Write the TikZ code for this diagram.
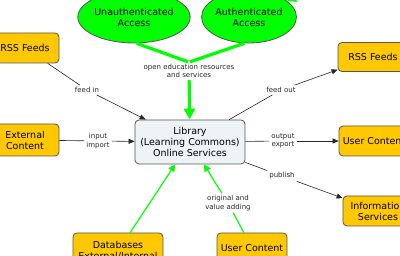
\documentclass[tikz,border=0pt]{standalone}
\usepackage{fontspec}
\setmainfont{DejaVu Sans}
\usetikzlibrary{arrows.meta,shapes.geometric}
\definecolor{gold}{HTML}{FFC800}
\definecolor{libfill}{HTML}{EEF3F5}
\definecolor{rim}{HTML}{555555}
\definecolor{lime}{HTML}{00FF00}

\begin{document}
\begin{tikzpicture}[x=1pt,y=-1pt,>={Triangle[length=6pt,width=5pt]},
  box/.style={draw=rim,line width=0.8pt,rounded corners=4pt,fill=gold,align=center,
    inner sep=2pt,font=\fontsize{9.5}{11}\selectfont},
  blob/.style={ellipse,draw=rim,line width=0.8pt,fill=lime,align=center,inner sep=0pt,
    font=\fontsize{9.5}{11}\selectfont},
  lab/.style={align=center,inner sep=2pt,text=black!85,font=\fontsize{7}{8.5}\selectfont},
  link/.style={line width=0.6pt,draw=black!85},
  glink/.style={draw=lime,line width=1.2pt},
  gfat/.style={draw=lime,line width=3.2pt}]
  \path[use as bounding box,clip] (0,0) rectangle (400,256);
  % concepts
  \node[blob,minimum width=96pt,minimum height=52pt] (unauth) at (134,17) {Unauthenticated\\Access};
  \node[blob,minimum width=84pt,minimum height=52pt] (auth) at (249,17) {Authenticated\\Access};
  \node[box,fill=libfill,minimum width=110pt,minimum height=44pt] (lib) at (190,142)
    {Library\\(Learning Commons)\\Online Services};
  \node[box,minimum width=68pt,minimum height=30pt] (rssin) at (25,48) {RSS Feeds};
  \node[box,minimum width=68pt,minimum height=32pt] (extin) at (25,140) {External\\Content};
  \node[box,minimum width=70pt,minimum height=29pt] (rssout) at (373,57) {RSS Feeds};
  \node[box,minimum width=70pt,minimum height=30pt] (userout) at (374,141) {User Content};
  \node[box,minimum width=70pt,minimum height=30pt] (info) at (378,211) {Information\\Services};
  \node[box,minimum width=70pt,minimum height=30pt] (userin) at (252,248) {User Content};
  \node[box,minimum width=90pt,minimum height=36pt] (db) at (118,251) {Databases\\External/Internal};
  \coordinate (authsrc) at (306,-7);
  % linking phrases
  \node[lab] (oer) at (189,71) {open education resources\\and services};
  \node[lab] (feedin) at (87,90) {feed in};
  \node[lab] (inp) at (98,141) {input\\import};
  \node[lab] (feedout) at (281,90) {feed out};
  \node[lab] (outp) at (283,141) {output\\export};
  \node[lab] (pub) at (282,176) {publish};
  \node[lab] (orig) at (228,203) {original and\\value adding};
  % links
  \draw[gfat] (unauth.-84) -- (oer.96);
  \draw[gfat] (auth.-100) -- (oer.84);
  \draw[gfat,-{Triangle[length=11pt,width=11pt]}] (oer) -- (lib);
  \draw[gfat,-{Triangle[length=9pt,width=9pt]}] (authsrc) -- (auth);
  \draw[link] (rssin) -- (feedin);
  \draw[link,->] (feedin) -- (lib);
  \draw[link] (extin) -- (inp);
  \draw[link,->] (inp) -- (lib);
  \draw[link] (lib) -- (feedout);
  \draw[link,->] (feedout) -- (rssout);
  \draw[link] (lib) -- (outp);
  \draw[link,->] (outp) -- (userout);
  \draw[link] (lib) -- (pub);
  \draw[link,->] (pub) -- (info);
  \draw[glink,-{Triangle[length=7pt,width=7pt]}] (db) -- (lib);
  \draw[glink] (userin) -- (orig);
  \draw[glink,-{Triangle[length=7pt,width=7pt]}] (orig) -- (lib);
\end{tikzpicture}
\end{document}
